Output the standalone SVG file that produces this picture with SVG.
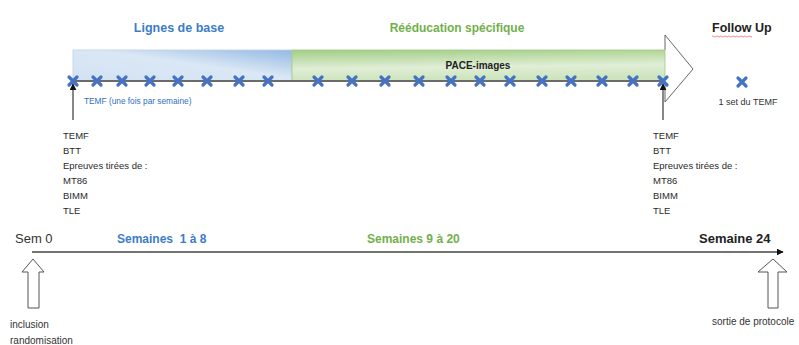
<svg xmlns="http://www.w3.org/2000/svg" width="799" height="345" viewBox="0 0 799 345">
<defs>
<style>
text{font-family:"Liberation Sans",Arial,sans-serif;}
.b{font-weight:bold;}
.blue{fill:#3d7cc9;}
.green{fill:#72b04b;}
.dark{fill:#222;}
.list{font-size:9.5px;fill:#2a2a2a;}
.x{stroke:#4472c4;stroke-width:3.2;stroke-linecap:round;fill:none;}
.hollow{fill:#fff;stroke:#555;stroke-width:1;}
</style>
<linearGradient id="gBlue" x1="0" y1="1" x2="1" y2="0">
<stop offset="0" stop-color="#d3e2f3"/>
<stop offset="0.55" stop-color="#dae7f5"/>
<stop offset="1" stop-color="#94b9e3"/>
</linearGradient>
<linearGradient id="gGreen" x1="0" y1="0" x2="0.15" y2="1">
<stop offset="0" stop-color="#a2cd84"/>
<stop offset="0.6" stop-color="#e0eed6"/>
<stop offset="1" stop-color="#cde4bd"/>
</linearGradient>
<symbol id="cross" viewBox="-6 -6 12 12" width="12" height="12" overflow="visible">
<path class="x" d="M-4,-4L4,4M4,-4L-4,4"/>
</symbol>
<marker id="ah" viewBox="0 0 10 10" refX="9" refY="5" markerWidth="7" markerHeight="7" orient="auto" markerUnits="userSpaceOnUse">
<path d="M0,0L10,5L0,10z" fill="#111"/>
</marker>
</defs>

<g id="phase-titles">
<text class="b blue" x="179" y="32" font-size="12.5" text-anchor="middle">Lignes de base</text>
<text class="b green" x="457" y="32" font-size="12" text-anchor="middle">Rééducation spécifique</text>
<text class="b dark" x="712" y="32" font-size="12.5">Follow Up</text>
<path d="M712,36.5 q1,-1.2 2,0 t2,0 t2,0 t2,0 t2,0 t2,0 t2,0 t2,0 t2,0 t2,0 t2,0 t2,0 t2,0 t2,0 t2,0 t2,0 t2,0 t2,0 t2,0 t2,0" fill="none" stroke="#e85a5a" stroke-width="0.7"/>
</g>

<g id="timeline-bar">
<path d="M665,50 L665,35 L693,69 L665,102 L665,82" fill="#fff" stroke="#666" stroke-width="1"/>
<rect id="baseline-bar" x="73" y="50" width="219" height="31" fill="url(#gBlue)" stroke="#bcd2ec" stroke-width="0.8"/>
<rect id="pace-bar" x="292" y="50" width="373" height="31" fill="url(#gGreen)" stroke="#9fcb82" stroke-width="0.8"/>
<line x1="73" y1="81" x2="665" y2="81" stroke="#6b6b6b" stroke-width="2"/>
<text class="b dark" x="478" y="69" font-size="10" text-anchor="middle">PACE-images</text>
</g>

<g id="sessions">
<use href="#cross" x="67" y="75"/>
<use href="#cross" x="91" y="75"/>
<use href="#cross" x="116" y="75"/>
<use href="#cross" x="144" y="75"/>
<use href="#cross" x="172" y="75"/>
<use href="#cross" x="201" y="75"/>
<use href="#cross" x="233" y="75"/>
<use href="#cross" x="262" y="75"/>
<use href="#cross" x="312" y="75"/>
<use href="#cross" x="346" y="75"/>
<use href="#cross" x="379" y="75"/>
<use href="#cross" x="413" y="75"/>
<use href="#cross" x="445" y="75"/>
<use href="#cross" x="474" y="75"/>
<use href="#cross" x="504" y="75"/>
<use href="#cross" x="536" y="75"/>
<use href="#cross" x="565" y="75"/>
<use href="#cross" x="596" y="75"/>
<use href="#cross" x="627" y="75"/>
<use href="#cross" x="657" y="75"/>
<use href="#cross" x="736" y="76"/>
<text x="84" y="104" font-size="8.3" fill="#2f6fbf">TEMF (une fois par semaine)</text>
<text x="748" y="105" font-size="9" fill="#333" text-anchor="middle">1 set du TEMF</text>
</g>

<g id="connectors">
<line x1="73" y1="120" x2="73" y2="84" stroke="#111" stroke-width="1" marker-end="url(#ah)"/>
<line x1="663" y1="120" x2="663" y2="84" stroke="#111" stroke-width="1" marker-end="url(#ah)"/>
<line x1="32" y1="252" x2="783" y2="252" stroke="#444" stroke-width="1.5" marker-end="url(#ah)"/>
</g>

<g id="assessments-start">
<text class="list" x="63" y="139">TEMF</text>
<text class="list" x="63" y="154">BTT</text>
<text class="list" x="63" y="169">Epreuves tirées de :</text>
<text class="list" x="63" y="184">MT86</text>
<text class="list" x="63" y="199">BIMM</text>
<text class="list" x="63" y="214">TLE</text>
</g>

<g id="assessments-end">
<text class="list" x="653" y="139">TEMF</text>
<text class="list" x="653" y="154">BTT</text>
<text class="list" x="653" y="169">Epreuves tirées de :</text>
<text class="list" x="653" y="184">MT86</text>
<text class="list" x="653" y="199">BIMM</text>
<text class="list" x="653" y="214">TLE</text>
</g>

<g id="week-labels">
<text x="15" y="243" font-size="13" fill="#333">Sem 0</text>
<text class="b blue" x="117" y="243" font-size="12" xml:space="preserve">Semaines  1 à 8</text>
<text class="b green" x="367" y="243" font-size="12">Semaines 9 à 20</text>
<text class="b dark" x="699" y="243" font-size="13">Semaine 24</text>
</g>

<g id="inclusion">
<path class="hollow" d="M33,259 L44,272 L39,272 L39,308 L28,308 L28,272 L22,272 Z"/>
<text x="10" y="328" font-size="10" fill="#333">inclusion</text>
<text x="10" y="344" font-size="10" fill="#333">randomisation</text>
</g>

<g id="sortie">
<path class="hollow" d="M773,259 L787,272 L778,272 L778,308 L768,308 L768,272 L758,272 Z"/>
<text x="712" y="325" font-size="10" fill="#333">sortie de protocole</text>
</g>
</svg>
